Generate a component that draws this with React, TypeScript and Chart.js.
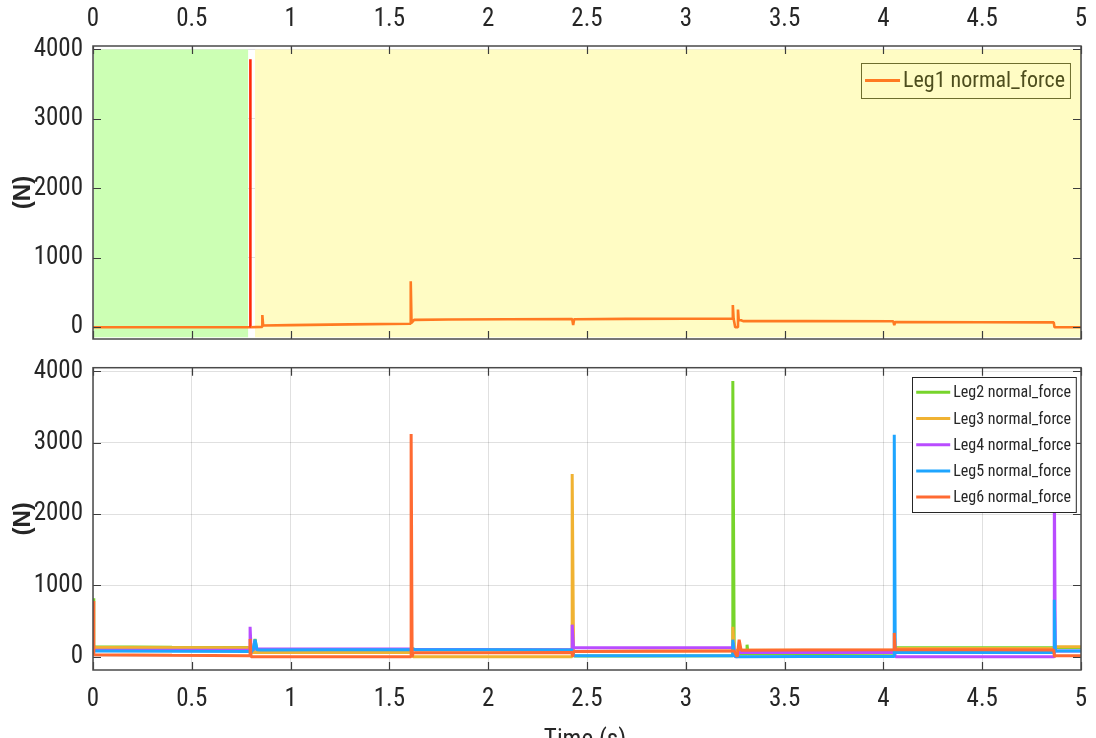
import React, { useEffect, useRef } from "react";
import { Chart, registerables } from "chart.js";
Chart.register(...registerables);

// ---------- axes ----------
const TIME_MIN = 0;
const TIME_MAX = 5;
const TIME_TICKS = [0, 0.5, 1, 1.5, 2, 2.5, 3, 3.5, 4, 4.5, 5];
const FORCE_TICKS = [0, 1000, 2000, 3000, 4000];
const TOP_Y_MIN = -170;
const TOP_Y_MAX = 4050;
const BOT_Y_MIN = -185;
const BOT_Y_MAX = 4050;
const Y_TITLE = "(N)";
const X_TITLE = "Time (s)";

// ---------- phase shading (top panel) ----------
const phaseStart = [0.005, 0.82];
const phaseEnd = [0.785, 5];
const phaseLow = [-145, -145];
const phaseHigh = [4000, 4000];
const phaseColors = ["#ccffb4", "#fffcc4"];

// ---------- top panel: Leg1 ----------
const leg1Name = "Leg1 normal_force";
const leg1Time = [0, 0.792, 0.795, 0.795, 0.798, 0.855, 0.857, 0.857, 0.861, 1.0, 1.3, 1.606, 1.608, 1.608, 1.612, 1.625, 1.8, 2.1, 2.425, 2.43, 2.435, 2.7, 3.0, 3.238, 3.238, 3.242, 3.25, 3.26, 3.264, 3.264, 3.268, 3.28, 3.29, 3.6, 4.05, 4.055, 4.06, 4.5, 4.862, 4.866, 5];
const leg1Force = [0, 0, 0, 3860, 0, 5, 5, 175, 25, 30, 40, 50, 50, 660, 60, 105, 110, 115, 118, 30, 115, 120, 122, 125, 320, 120, 0, 0, 0, 255, 100, 100, 88, 88, 85, 30, 75, 72, 70, 0, 0];

// ---------- bottom panel ----------
const leg2Name = "Leg2 normal_force";
const leg2Time = [0, 0.004, 0.4, 0.795, 0.8, 0.81, 0.82, 0.83, 0.85, 1.2, 1.61, 1.62, 1.63, 2.0, 2.425, 2.435, 2.8, 3.238, 3.238, 3.245, 3.27, 3.31, 3.31, 3.315, 3.7, 4.055, 4.065, 4.5, 4.86, 4.87, 5];
const leg2Force = [820, 140, 132, 130, 60, 60, 250, 80, 100, 100, 98, 110, 100, 98, 95, 10, 12, 15, 3865, 30, 40, 40, 170, 40, 45, 50, 125, 125, 128, 130, 130];

const leg3Name = "Leg3 normal_force";
const leg3Time = [0, 0.004, 0.79, 0.8, 0.805, 1.2, 1.61, 1.62, 2.0, 2.425, 2.425, 2.432, 2.8, 3.238, 3.238, 3.245, 3.6, 4.055, 4.065, 4.5, 4.86, 4.87, 5];
const leg3Force = [130, 130, 125, 125, 60, 60, 60, 0, 0, 0, 2560, 75, 80, 85, 420, 90, 90, 90, 115, 115, 115, 140, 140];

const leg4Name = "Leg4 normal_force";
const leg4Time = [0, 0.004, 0.795, 0.795, 0.8, 1.2, 1.61, 1.62, 2.0, 2.425, 2.425, 2.432, 2.8, 3.236, 3.24, 3.25, 3.26, 3.27, 3.6, 4.055, 4.062, 4.5, 4.865, 4.865, 4.87, 5];
const leg4Force = [90, 90, 90, 420, 110, 110, 110, 105, 102, 100, 450, 125, 128, 130, 200, 0, 0, 60, 60, 60, 0, 0, 0, 2600, 80, 80];

const leg5Name = "Leg5 normal_force";
const leg5Time = [0, 0.004, 0.79, 0.8, 0.81, 0.82, 0.83, 0.85, 1.2, 1.61, 1.62, 1.63, 2.0, 2.425, 2.432, 2.8, 3.236, 3.238, 3.245, 3.26, 3.6, 4.055, 4.055, 4.06, 4.5, 4.865, 4.865, 4.87, 5];
const leg5Force = [80, 80, 75, 60, 100, 240, 100, 95, 98, 100, 110, 100, 98, 95, 15, 15, 15, 240, 10, 0, 3, 5, 3110, 60, 60, 60, 800, 80, 80];

const leg6Name = "Leg6 normal_force";
const leg6Time = [0, 0.004, 0.4, 0.795, 0.795, 0.8, 1.2, 1.61, 1.61, 1.615, 1.62, 2.0, 2.425, 2.428, 2.432, 2.8, 3.235, 3.245, 3.26, 3.27, 3.28, 3.6, 4.055, 4.055, 4.06, 4.5, 4.862, 4.866, 4.87, 5];
const leg6Force = [780, 30, 22, 15, 250, 0, 0, 0, 3120, 0, 55, 58, 60, 0, 75, 78, 80, 80, 0, 240, 90, 95, 100, 335, 100, 98, 95, 0, 15, 15];

// ---------- colours ----------
const LEG1_COLOR = "#ff7a22";
const LEG1_SPIKE_COLOR = "#ff2a0a";
const BOTTOM_COLORS = ["#77d42b", "#f0b232", "#b94cff", "#1ea5ff", "#ff6a32"];
const TEXT_COLOR = "#262626";
const GRID_COLOR = "rgba(0,0,0,0.12)";

// ---------- font selection (narrow face if installed) ----------
function pickFont() {
  const c = document.createElement("canvas").getContext("2d") as CanvasRenderingContext2D;
  const sample = "abcdefghijklmnopqrstuvwxyz 0123456789";
  const cands = ["Liberation Sans Narrow", "Arial Narrow", "Roboto Condensed", "Nimbus Sans Narrow"];
  for (const cand of cands) {
    c.font = "40px monospace";
    const w0 = c.measureText(sample).width;
    c.font = `40px "${cand}", monospace`;
    const w1 = c.measureText(sample).width;
    c.font = "40px serif";
    const w2 = c.measureText(sample).width;
    c.font = `40px "${cand}", serif`;
    const w3 = c.measureText(sample).width;
    if (w0 !== w1 || w2 !== w3) return { family: `"${cand}"`, narrow: true };
  }
  return { family: "Roboto, 'Liberation Sans', sans-serif", narrow: false };
}
const FONT = typeof document !== "undefined" ? pickFont() : { family: "Roboto", narrow: false };
const TICK_SIZE = FONT.narrow ? 25 : 23;
const LETTER_SPACING = FONT.narrow ? "0px" : "-1px";

const zip = (t: number[], f: number[]) => t.map((x, i) => ({ x, y: f[i] }));

// ---------- plugins ----------
const spacingPlugin = {
  id: "spacing",
  beforeUpdate(chart: any) { (chart.ctx as any).letterSpacing = LETTER_SPACING; },
  beforeLayout(chart: any) { (chart.ctx as any).letterSpacing = LETTER_SPACING; },
  beforeDraw(chart: any) { (chart.ctx as any).letterSpacing = LETTER_SPACING; },
};

const phasePlugin = {
  id: "phaseShade",
  beforeDatasetsDraw(chart: any, _a: any, opts: any) {
    if (!opts || !opts.enabled) return;
    const { ctx, scales } = chart;
    const xs = scales.x, ys = scales.y;
    ctx.save();
    for (let i = 0; i < phaseStart.length; i++) {
      const x0 = xs.getPixelForValue(phaseStart[i]);
      const x1 = xs.getPixelForValue(phaseEnd[i]);
      const y0 = ys.getPixelForValue(phaseHigh[i]);
      const y1 = ys.getPixelForValue(phaseLow[i]);
      ctx.fillStyle = phaseColors[i];
      ctx.fillRect(x0, y0, x1 - x0, y1 - y0);
    }
    ctx.restore();
  },
};

const framePlugin = {
  id: "frameTicks",
  afterDatasetsDraw(chart: any) {
    const { ctx, chartArea: a, scales } = chart;
    ctx.save();
    ctx.strokeStyle = "#3c3c3c";
    ctx.lineWidth = 1.2;
    const L = 8;
    ctx.beginPath();
    for (const t of TIME_TICKS) {
      const px = Math.round(scales.x.getPixelForValue(t)) + 0.5;
      ctx.moveTo(px, a.top); ctx.lineTo(px, a.top + L);
      ctx.moveTo(px, a.bottom); ctx.lineTo(px, a.bottom - L);
    }
    for (const v of FORCE_TICKS) {
      const py = Math.round(scales.y.getPixelForValue(v)) + 0.5;
      ctx.moveTo(a.left, py); ctx.lineTo(a.left + L, py);
      ctx.moveTo(a.right, py); ctx.lineTo(a.right - L, py);
    }
    ctx.stroke();
    ctx.lineWidth = 1.5;
    ctx.strokeStyle = "#4a4a4a";
    ctx.strokeRect(a.left, a.top, a.right - a.left, a.bottom - a.top);
    ctx.restore();
  },
};

const legendPlugin = {
  id: "boxLegend",
  afterDraw(chart: any, _a: any, opts: any) {
    if (!opts || !opts.enabled) return;
    const { ctx, chartArea: a } = chart;
    const ds = chart.data.datasets.filter((d: any) => d.label);
    ctx.save();
    ctx.font = `${opts.fontSize}px ${FONT.family}`;
    let tw = 0;
    ds.forEach((d: any) => { tw = Math.max(tw, ctx.measureText(d.label).width); });
    const width = 4 + opts.sample + 3 + tw + 5;
    const x0 = a.right - opts.offsetRight - width;
    const y0 = a.top + opts.offsetTop;
    const h = opts.padTop + ds.length * opts.rowH + opts.padBottom;
    ctx.fillStyle = opts.fill;
    ctx.fillRect(x0, y0, width, h);
    ctx.strokeStyle = opts.border;
    ctx.lineWidth = 1;
    ctx.strokeRect(Math.round(x0) + 0.5, Math.round(y0) + 0.5, width, h);
    ctx.textBaseline = "middle";
    ctx.textAlign = "left";
    ds.forEach((d: any, i: number) => {
      const cy = y0 + opts.padTop + opts.rowH * (i + 0.5);
      ctx.strokeStyle = d.borderColor;
      ctx.lineWidth = opts.lineW;
      ctx.beginPath();
      ctx.moveTo(x0 + 4, cy);
      ctx.lineTo(x0 + 4 + opts.sample, cy);
      ctx.stroke();
      ctx.fillStyle = opts.textColor;
      ctx.fillText(d.label, x0 + 7 + opts.sample, cy + 1);
    });
    ctx.restore();
  },
};

const titlesPlugin = {
  id: "axisTitles",
  afterDraw(chart: any, _a: any, opts: any) {
    const { ctx, chartArea: a } = chart;
    ctx.save();
    (ctx as any).letterSpacing = "0px";
    ctx.fillStyle = TEXT_COLOR;
    ctx.font = `bold 24px 'Liberation Sans', Arial, sans-serif`;
    ctx.textAlign = "center";
    ctx.textBaseline = "middle";
    ctx.translate(23, (a.top + a.bottom) / 2 + opts.yShift);
    ctx.rotate(-Math.PI / 2);
    ctx.fillText(Y_TITLE, 0, 0);
    ctx.restore();
    if (opts.showX) {
      ctx.save();
      ctx.fillStyle = TEXT_COLOR;
      ctx.font = `${TICK_SIZE}px ${FONT.family}`;
      ctx.textAlign = "center";
      ctx.textBaseline = "top";
      ctx.fillText(X_TITLE, (a.left + a.right) / 2 - 2, a.bottom + 58);
      ctx.restore();
    }
  },
};

function makeOptions(kind: "top" | "bottom", canvasH: number): any {
  const isTop = kind === "top";
  const plotTop = isTop ? 46 : 17.7;
  const plotBottom = isTop ? 339 : 320;
  return {
    responsive: false,
    animation: false,
    maintainAspectRatio: false,
    layout: { autoPadding: false, padding: { left: 0, right: 15, top: isTop ? 0 : plotTop, bottom: isTop ? canvasH - plotBottom : 0 } },
    elements: { point: { radius: 0 }, line: { tension: 0, borderJoinStyle: "bevel", borderCapStyle: "butt" } },
    plugins: {
      legend: { display: false },
      tooltip: { enabled: false },
      phaseShade: { enabled: isTop },
      boxLegend: isTop
        ? { enabled: true, offsetRight: 11, offsetTop: 17, padTop: 0, padBottom: 0, rowH: 35, fill: "#fffcc4", border: "#6e6e2e", textColor: "#4e4e1e", fontSize: FONT.narrow ? 22 : 20, sample: 35, lineW: 3 }
        : { enabled: true, offsetRight: 5, offsetTop: 9.5, padTop: 2, padBottom: 2, rowH: 26.2, fill: "#ffffff", border: "#262626", textColor: TEXT_COLOR, fontSize: FONT.narrow ? 16 : 15, sample: 34, lineW: 3 },
      axisTitles: { yShift: 0, showX: !isTop },
    },
    scales: {
      x: {
        type: "linear",
        position: isTop ? "top" : "bottom",
        min: TIME_MIN,
        max: TIME_MAX,
        afterBuildTicks: (s: any) => { s.ticks = TIME_TICKS.map((v) => ({ value: v })); },
        afterFit: (s: any) => { s.height = isTop ? plotTop : canvasH - plotBottom; s.paddingLeft = 0; s.paddingRight = 0; },
        ticks: {
          color: TEXT_COLOR,
          font: { family: FONT.family, size: TICK_SIZE },
          padding: isTop ? 11 : 15,
          maxRotation: 0,
          autoSkip: false,
          callback: (v: any) => String(v),
        },
        grid: { color: GRID_COLOR, lineWidth: 1, drawTicks: false },
        border: { display: false },
      },
      y: {
        type: "linear",
        min: isTop ? TOP_Y_MIN : BOT_Y_MIN,
        max: isTop ? TOP_Y_MAX : BOT_Y_MAX,
        afterBuildTicks: (s: any) => { s.ticks = FORCE_TICKS.map((v) => ({ value: v })); },
        afterFit: (s: any) => { s.width = 93; s.paddingTop = 0; s.paddingBottom = 0; },
        ticks: {
          color: TEXT_COLOR,
          font: { family: FONT.family, size: TICK_SIZE },
          padding: 10,
          autoSkip: false,
          callback: (v: any) => String(v),
        },
        grid: { color: GRID_COLOR, lineWidth: 1, drawTicks: false },
        border: { display: false },
      },
    },
  };
}

function TopChart() {
  const ref = useRef<HTMLCanvasElement | null>(null);
  useEffect(() => {
    if (!ref.current) return;
    const chart = new Chart(ref.current, {
      type: "line",
      data: {
        datasets: [
          {
            label: leg1Name,
            data: zip(leg1Time, leg1Force),
            borderColor: LEG1_COLOR,
            borderWidth: 2.6,
            segment: {
              borderColor: (c: any) =>
                c.p0.parsed.x < 0.81 && (c.p0.parsed.y > 1000 || c.p1.parsed.y > 1000) ? LEG1_SPIKE_COLOR : undefined,
            },
          } as any,
        ],
      },
      options: makeOptions("top", 350),
      plugins: [spacingPlugin, phasePlugin, framePlugin, legendPlugin, titlesPlugin],
    });
    return () => chart.destroy();
  }, []);
  return <canvas ref={ref} width={1096} height={350} style={{ position: "absolute", left: 0, top: 0, width: 1096, height: 350 }} />;
}

function BottomChart() {
  const ref = useRef<HTMLCanvasElement | null>(null);
  useEffect(() => {
    if (!ref.current) return;
    const names = [leg2Name, leg3Name, leg4Name, leg5Name, leg6Name];
    const times = [leg2Time, leg3Time, leg4Time, leg5Time, leg6Time];
    const forces = [leg2Force, leg3Force, leg4Force, leg5Force, leg6Force];
    const chart = new Chart(ref.current, {
      type: "line",
      data: {
        datasets: names.map((n, i) => ({
          label: n,
          data: zip(times[i], forces[i]),
          borderColor: BOTTOM_COLORS[i],
          borderWidth: 3,
          order: names.length - i,
        })) as any,
      },
      options: makeOptions("bottom", 420),
      plugins: [spacingPlugin, phasePlugin, framePlugin, legendPlugin, titlesPlugin],
    });
    return () => chart.destroy();
  }, []);
  return <canvas ref={ref} width={1096} height={420} style={{ position: "absolute", left: 0, top: 350, width: 1096, height: 420 }} />;
}

export default function App() {
  return (
    <div style={{ position: "fixed", left: 0, top: 0, width: 1096, height: 738, overflow: "hidden", background: "#ffffff" }}>
      <TopChart />
      <BottomChart />
    </div>
  );
}
